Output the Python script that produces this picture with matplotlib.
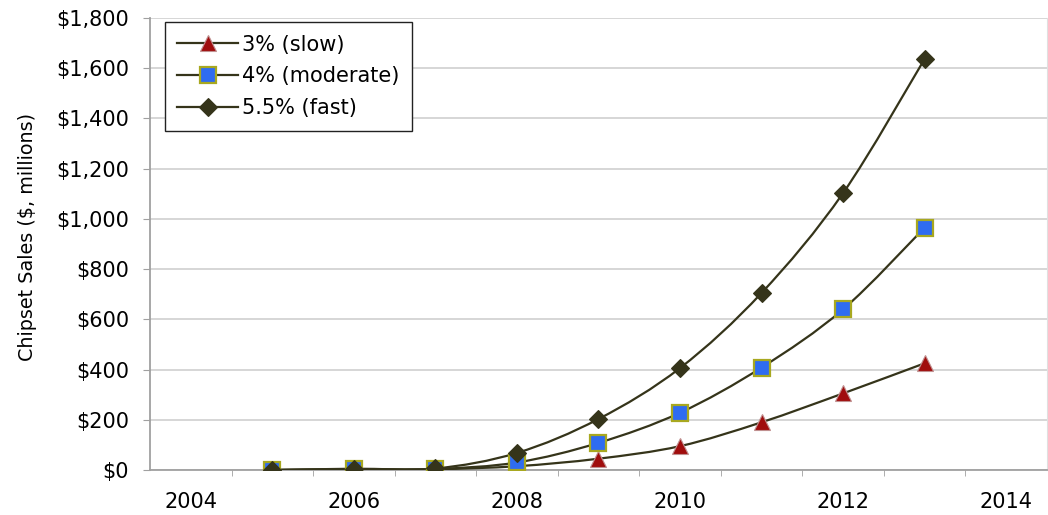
import numpy as np
import matplotlib
matplotlib.use("Agg")
import matplotlib.pyplot as plt
from matplotlib.path import Path
from matplotlib.patches import PathPatch
from matplotlib.lines import Line2D
from matplotlib.ticker import FuncFormatter

plt.rcParams['font.family'] = ['DejaVu Sans']

years = [2005, 2006, 2007, 2008, 2009, 2010, 2011, 2012, 2013]
slow = [0, 2, 3, 15, 45, 95, 190, 305, 425]
moderate = [0, 3, 4, 30, 108, 228, 408, 640, 965]
fast = [0, 5, 6, 68, 203, 406, 705, 1103, 1637]
labels = ['3% (slow)', '4% (moderate)', '5.5% (fast)']

LINE = '#35341a'


def smooth_path(x, y):
    # cubic bezier through the points (catmull-rom style control points)
    p = np.column_stack([x, y]).astype(float)
    ext = np.vstack([p[0], p, p[-1]])
    verts = [p[0]]
    codes = [Path.MOVETO]
    for i in range(1, len(ext) - 2):
        p0, p1, p2, p3 = ext[i - 1], ext[i], ext[i + 1], ext[i + 2]
        c1 = p1 + (p2 - p0) / 6.0
        c2 = p2 - (p3 - p1) / 6.0
        verts += [c1, c2, p2]
        codes += [Path.CURVE4] * 3
    return Path(verts, codes)


fig = plt.figure(figsize=(10.48, 5.15), dpi=100)
ax = fig.add_axes([0.1431, 0.0874, 0.8559, 0.8776])

styles = [
    dict(marker='^', ms=11, mfc='#a00d0d', mec='#c09090', mew=0.8),
    dict(marker='s', ms=11, mfc='#2f6cf0', mec='#a8a820', mew=1.6),
    dict(marker='D', ms=9, mfc='#35341a', mec='#35341a', mew=0.8),
]

handles = []
for vals, st, lab in zip([slow, moderate, fast], styles, labels):
    ax.add_patch(PathPatch(smooth_path(years, vals), facecolor='none',
                           edgecolor=LINE, lw=1.6, zorder=3))
    ax.plot(years, vals, ls='none', zorder=4, **st)
    handles.append(Line2D([], [], color=LINE, lw=1.6, label=lab, **st))

ax.set_xlim(2003.5, 2014.5)
ax.set_ylim(0, 1800)
ax.set_yticks(np.arange(0, 1801, 200))
ax.yaxis.set_major_formatter(FuncFormatter(lambda v, p: '${:,.0f}'.format(v)))
ax.set_xticks(np.arange(2004, 2015, 2))
ax.set_xticks(np.arange(2004.5, 2014.5, 1), minor=True)

ax.grid(axis='y', color='#cfcfcf', lw=1.2)
ax.set_axisbelow(True)
ax.spines['top'].set_visible(False)
ax.spines['right'].set_color('#e0e0e0')
ax.spines['left'].set_color('#a0a0a0')
ax.spines['bottom'].set_color('#a0a0a0')
ax.spines['left'].set_linewidth(1.3)
ax.spines['bottom'].set_linewidth(1.3)

ax.tick_params(axis='y', labelsize=15, length=5, color='#a0a0a0', pad=10)
ax.tick_params(axis='x', which='major', labelsize=15, length=0, pad=16)
ax.tick_params(axis='x', which='minor', length=4, color='#a0a0a0')

ax.set_ylabel('Chipset Sales ($, millions)', fontsize=13.8)
ax.yaxis.set_label_coords(-0.126, 0.515)

leg = ax.legend(handles=handles, loc='upper left', bbox_to_anchor=(0.0167, 0.991),
                borderaxespad=0, fontsize=15, handlelength=2.9, handletextpad=0.2,
                borderpad=0.6, labelspacing=0.57, fancybox=False,
                framealpha=1, edgecolor='#222222')
leg.get_frame().set_linewidth(1.0)

fig.savefig('out.png', dpi=100)
